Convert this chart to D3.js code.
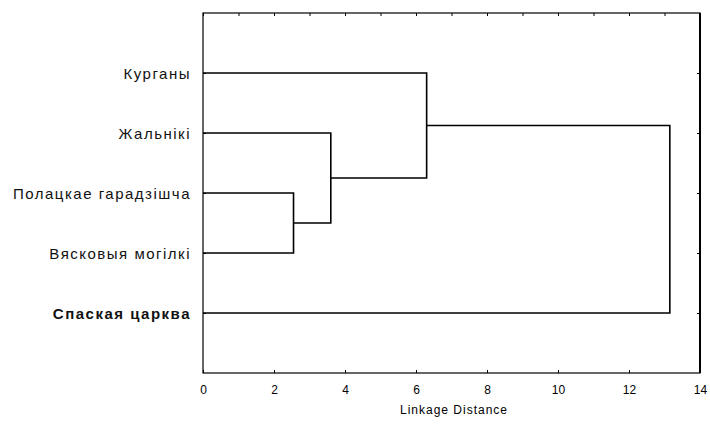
<!DOCTYPE html>
<html>
<head>
<meta charset="utf-8">
<script src="https://cdn.jsdelivr.net/npm/d3@7"></script>
<style>
  body { margin: 0; background: #fff; }
  svg { display: block; font-family: "Liberation Sans", Arial, sans-serif; }
  .axis path { display: none; }
  .axis line { stroke: #000; }
</style>
</head>
<body>
<svg id="chart" width="710" height="424"></svg>
<script>
const leaves = ['Курганы', 'Жальнікі', 'Полацкае гарадзішча', 'Вясковыя могілкі', 'Спаская царква']
// [child a, child b, linkage distance]; ids 0-4 are leaves, merges get ids 5..
const merges = [[2, 3, 2.55], [1, 5, 3.6], [0, 6, 6.3], [7, 4, 13.15]]
const xTicks = [0, 2, 4, 6, 8, 10, 12, 14]

const svg = d3.select('#chart')
const plotLeft = 203, plotRight = 700, plotTop = 13, plotBottom = 373
const x = d3.scaleLinear().domain([0, 14]).range([plotLeft, plotRight])
const y = d3.scaleLinear().domain([0, leaves.length + 1]).range([plotTop, plotBottom])

// node positions
const nodes = leaves.map((name, i) => ({ pos: i + 1, h: 0 }))
merges.forEach(m => {
    nodes.push({ pos: (nodes[m[0]].pos + nodes[m[1]].pos) / 2, h: m[2] })
})

// frame
svg.append('rect')
    .attr('x', plotLeft).attr('y', plotTop)
    .attr('width', plotRight - plotLeft).attr('height', plotBottom - plotTop)
    .attr('fill', 'none').attr('stroke', '#000').attr('stroke-width', 1.2)
svg.append('line')
    .attr('x1', plotRight).attr('x2', plotRight).attr('y1', plotTop).attr('y2', plotBottom)
    .attr('stroke', '#000').attr('stroke-width', 2)

// axes
svg.append('g').attr('class', 'axis')
    .attr('transform', `translate(0,${plotBottom})`)
    .call(d3.axisBottom(x).tickValues(xTicks).tickSizeInner(-3).tickPadding(12).tickFormat(d3.format('d')))
    .call(g => g.selectAll('text').attr('font-size', 12).attr('fill', '#000').attr('font-family', '"Liberation Sans", Arial, sans-serif'))
svg.append('g').attr('class', 'axis')
    .attr('transform', `translate(0,${plotTop})`)
    .call(d3.axisTop(x).ticks(14).tickSizeInner(-3).tickFormat(''))
svg.append('g').attr('class', 'axis')
    .attr('transform', `translate(${plotRight},0)`)
    .call(d3.axisRight(y).tickValues(leaves.map((d, i) => i + 1)).tickSizeInner(-3).tickFormat(''))
svg.append('g').attr('class', 'axis')
    .attr('transform', `translate(${plotLeft},0)`)
    .call(d3.axisLeft(y).tickValues(leaves.map((d, i) => i + 1)).tickSizeInner(-3).tickFormat(''))

// links
const line = d3.line().x(d => x(d[0])).y(d => y(d[1]))
merges.forEach(m => {
    const a = nodes[m[0]], b = nodes[m[1]]
    svg.append('path')
        .attr('d', line([[a.h, a.pos], [m[2], a.pos], [m[2], b.pos], [b.h, b.pos]]))
        .attr('fill', 'none').attr('stroke', '#000').attr('stroke-width', 1.6)
})

// leaf labels
svg.append('g').selectAll('text')
    .data(leaves)
    .join('text')
    .attr('x', plotLeft - 12)
    .attr('y', (d, i) => y(i + 1))
    .attr('dy', '0.4em')
    .attr('text-anchor', 'end')
    .attr('font-size', 15)
    .attr('letter-spacing', 1.5)
    .attr('font-weight', (d, i) => i == leaves.length - 1 ? 'bold' : 'normal')
    .attr('fill', '#111')
    .text(d => d)

svg.append('text')
    .attr('x', 454)
    .attr('y', 414)
    .attr('text-anchor', 'middle')
    .attr('font-size', 12)
    .attr('letter-spacing', 1)
    .attr('fill', '#000')
    .text('Linkage Distance')
</script>
</body>
</html>
